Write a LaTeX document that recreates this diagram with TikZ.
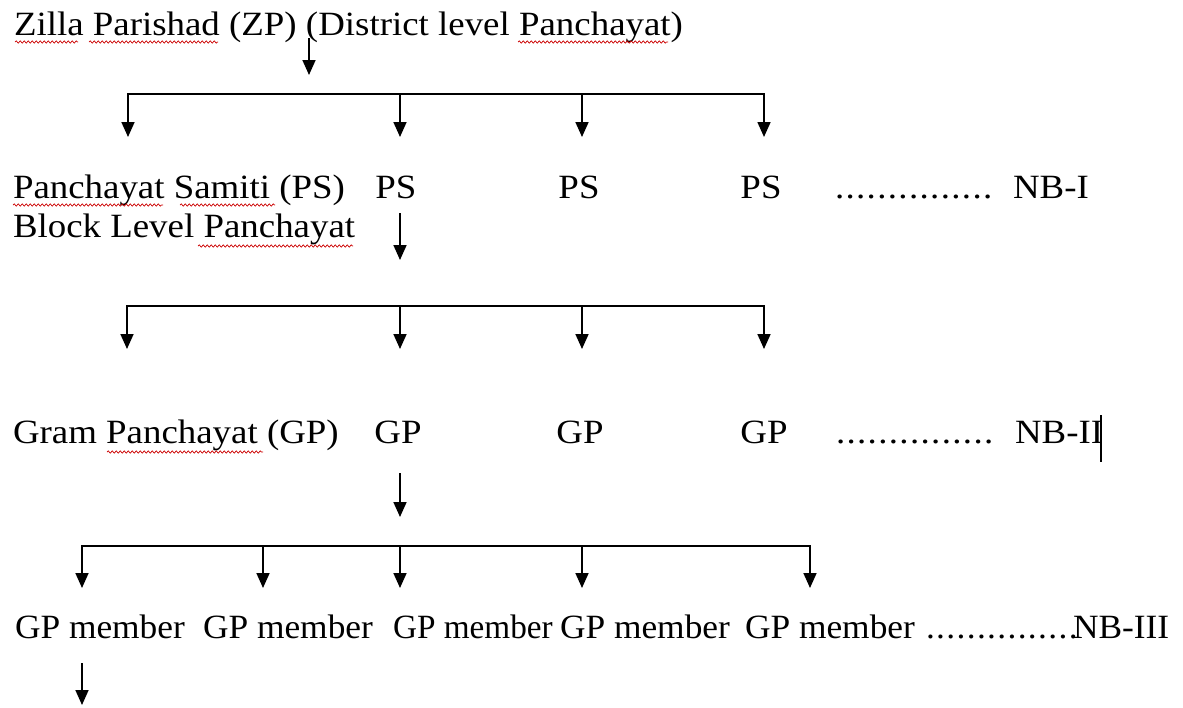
\documentclass[tikz,border=0pt]{standalone}
\usepackage{fontspec}
\setmainfont{Liberation Serif}[FakeStretch=1.085]
\newfontfamily\memfont{Liberation Serif}[FakeStretch=1.04]
\usetikzlibrary{arrows.meta,decorations.pathmorphing}
\newcommand\dotrow[1]{{\addfontfeature{LetterSpace=4}#1}}
\begin{document}
\begin{tikzpicture}[x=1pt,y=-1pt,
  lbl/.style={inner sep=0pt, outer sep=0pt, font=\fontsize{34}{40}\selectfont},
  mlbl/.style={lbl, font=\fontsize{34}{40}\memfont},
  conn/.style={line width=1.7pt, line cap=rect},
  arr/.style={line width=1.7pt, -{Triangle[length=15pt,width=13pt]}},
  spell/.style={draw=red!80!black, line width=0.7pt, decorate,
    decoration={snake, amplitude=1.1pt, segment length=4pt}}]
\useasboundingbox[fill=white] (0,0) rectangle (1183,707);

% ---------- level 1
\node[lbl, anchor=base west] (zp) at (14,35) {Zilla Parishad (ZP) (District level Panchayat)};
\coordinate (a1s) at (309,38);
\coordinate (a1e) at (309,75);
\draw[arr] (a1s) -- (a1e);

% bracket 1
\coordinate (h1l) at (128,94);
\coordinate (h1r) at (764,94);
\draw[conn] (h1l) -- (h1r);
\foreach \x [count=\i] in {128,400,582,764}{
  \coordinate (j1\i) at (\x,94);
  \coordinate (t1\i) at (\x,137);
  \draw[arr] (j1\i) -- (t1\i);
}

% ---------- level 2
\node[lbl, anchor=base west] (ps0) at (13,198) {Panchayat Samiti (PS)};
\node[lbl, anchor=base] (ps1) at (396,198) {PS};
\node[lbl, anchor=base] (ps2) at (579,198) {PS};
\node[lbl, anchor=base] (ps3) at (761,198) {PS};
\node[lbl, anchor=base west] (d1) at (835,198) {\dotrow{...............}};
\node[lbl, anchor=base west] (nb1) at (1013,198) {NB-I};
\node[lbl, anchor=base west] (blp) at (13,237) {Block Level Panchayat};
\coordinate (a2s) at (400,213);
\coordinate (a2e) at (400,260);
\draw[arr] (a2s) -- (a2e);

% bracket 2
\coordinate (h2l) at (127,306);
\coordinate (h2r) at (764,306);
\draw[conn] (h2l) -- (h2r);
\foreach \x [count=\i] in {127,400,582,764}{
  \coordinate (j2\i) at (\x,306);
  \coordinate (t2\i) at (\x,349);
  \draw[arr] (j2\i) -- (t2\i);
}

% ---------- level 3
\node[lbl, anchor=base west] (gp0) at (13,443) {Gram Panchayat (GP)};
\node[lbl, anchor=base] (gp1) at (398,443) {GP};
\node[lbl, anchor=base] (gp2) at (580,443) {GP};
\node[lbl, anchor=base] (gp3) at (764,443) {GP};
\node[lbl, anchor=base west] (d2) at (836,443) {\dotrow{...............}};
\node[lbl, anchor=base west] (nb2) at (1015,443) {NB-II};
\coordinate (cur1) at (1101,415);
\coordinate (cur2) at (1101,462);
\draw[line width=2.6pt] (cur1) -- (cur2);
\coordinate (a3s) at (400,473);
\coordinate (a3e) at (400,517);
\draw[arr] (a3s) -- (a3e);

% bracket 3
\coordinate (h3l) at (82,546);
\coordinate (h3r) at (810,546);
\draw[conn] (h3l) -- (h3r);
\foreach \x [count=\i] in {82,263,400,582,810}{
  \coordinate (j3\i) at (\x,546);
  \coordinate (t3\i) at (\x,588);
  \draw[arr] (j3\i) -- (t3\i);
}

% ---------- level 4
\node[mlbl, anchor=base west] (m1) at (15,638) {GP member};
\node[mlbl, anchor=base west] (m2) at (203,638) {GP member};
\node[mlbl, anchor=base west] (m3) at (393,638) {\scalebox{0.94}[1]{GP member}};
\node[mlbl, anchor=base west] (m4) at (560,638) {GP member};
\node[mlbl, anchor=base west] (m5) at (745,638) {GP member};
\node[mlbl, anchor=base west] (d3) at (926,638) {\dotrow{...............}};
\node[mlbl, anchor=base west] (nb3) at (1073,638) {NB-III};
\coordinate (a4s) at (82,663);
\coordinate (a4e) at (82,705);
\draw[arr] (a4s) -- (a4e);

% ---------- spell-check underlines
\draw[spell] (15,42) -- (78,42);
\draw[spell] (89,42) -- (218,42);
\draw[spell] (518,42) -- (668,42);
\draw[spell] (13,205) -- (163,205);
\draw[spell] (180,205) -- (275,205);
\draw[spell] (198,246) -- (353,246);
\draw[spell] (107,452) -- (263,452);
\end{tikzpicture}
\end{document}
